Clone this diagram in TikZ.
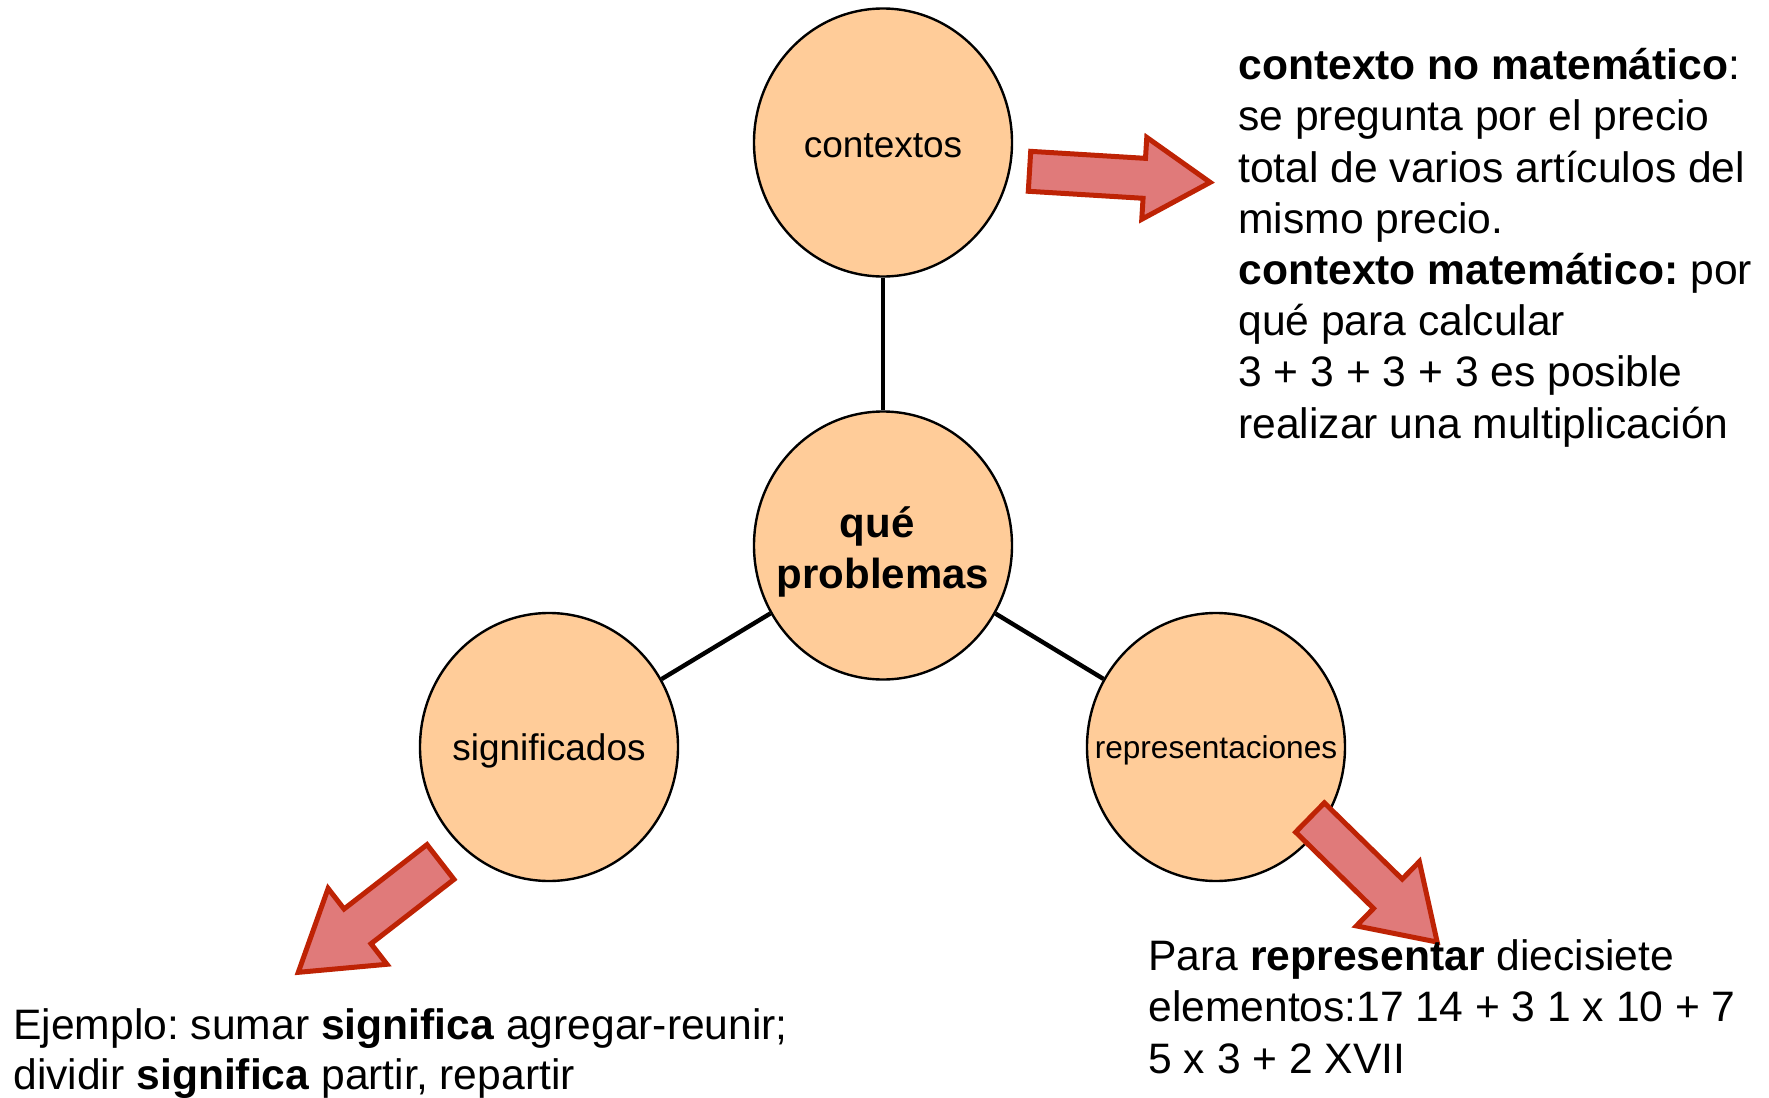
\documentclass[tikz,border=0pt]{standalone}
\usepackage{fontspec}
\setmainfont{Liberation Sans}
\usetikzlibrary{shapes.geometric}
\frenchspacing
\definecolor{peach}{RGB}{255,204,153}
\definecolor{arrfill}{RGB}{224,122,122}
\definecolor{arrdraw}{RGB}{190,35,5}
% #1 length, #2 shaft width, #3 head width, #4 head length
\newcommand{\BlockArrow}[4]{%
  \draw[blockarrow] (0,{-#2/2}) -- ({#1-#4},{-#2/2}) -- ({#1-#4},{-#3/2}) -- (#1,0)
    -- ({#1-#4},{#3/2}) -- ({#1-#4},{#2/2}) -- (0,{#2/2}) -- cycle;}
\tikzset{
  bubble/.style={ellipse, draw=black, line width=1.2pt, fill=peach,
    minimum width=129pt, minimum height=134pt, inner sep=0pt},
  bubbletext/.style={inner sep=0pt, align=center, yshift=-1.8pt, font=\fontsize{18.5}{22}\selectfont},
  conn/.style={line width=2.2pt, draw=black},
  blockarrow/.style={fill=arrfill, draw=arrdraw, line width=2.5pt, line join=miter},
  bodytext/.style={inner sep=0pt, align=left, font=\fontsize{21.3}{25.6}\selectfont\frenchspacing}
}
\begin{document}
\begin{tikzpicture}[x=0.5pt, y=-0.5pt]
\useasboundingbox (0,0) rectangle (1769,1098);

\node[bubble] (ctx) at (883,142.5) {};
\node[bubble] (cen) at (883,545.5) {};
\node[bubble] (sig) at (549,747) {};
\node[bubble] (rep) at (1216,747) {};

\draw[conn] (ctx) -- (cen);
\draw[conn] (cen) -- (sig);
\draw[conn] (cen) -- (rep);

\node[bubbletext] (ctxlabel) at (ctx.center) {contextos};
\node[bubbletext, yshift=-1.2pt, font=\bfseries\fontsize{21}{25.5}\selectfont] (cenlabel) at (cen.center) {qué\hspace*{0.28em}\\problemas};
\node[bubbletext] (siglabel) at (sig.center) {significados};
\node[bubbletext, font=\fontsize{15.8}{19}\selectfont] (replabel) at (rep.center) {representaciones};

\begin{scope}[shift={(1029.5,171.3)}, rotate=-3.5]
  \BlockArrow{181}{40}{82}{66}
\end{scope}
\begin{scope}[shift={(440.5,862)}, rotate=-142.2]
  \BlockArrow{180}{44}{96}{75}
\end{scope}
\begin{scope}[shift={(1310,817.5)}, rotate=-44.4]
  \BlockArrow{178}{41}{90}{69}
\end{scope}

% base anchor of a multi-line node = baseline of its last line
\node[bodytext, anchor=base west] (ctxtext) at (1238,438) {\textbf{contexto no matemático}:\\
se pregunta por el precio\\
total de varios artículos del\\
mismo precio.\\
\textbf{contexto matemático:} por\\
qué para calcular\\
3 + 3 + 3 + 3 es posible\\
realizar una multiplicación};

\node[bodytext, font=\fontsize{21.3}{25}\selectfont\frenchspacing, anchor=base west] (sigtext) at (13,1089) {Ejemplo: sumar \textbf{significa} agregar-reunir;\\
dividir \textbf{significa} partir, repartir};

\node[bodytext, anchor=base west] (reptext) at (1148,1073) {Para \textbf{representar} diecisiete\\
elementos:17 14 + 3 1 x 10 + 7\\
5 x 3 + 2 XVII};
\end{tikzpicture}
\end{document}
